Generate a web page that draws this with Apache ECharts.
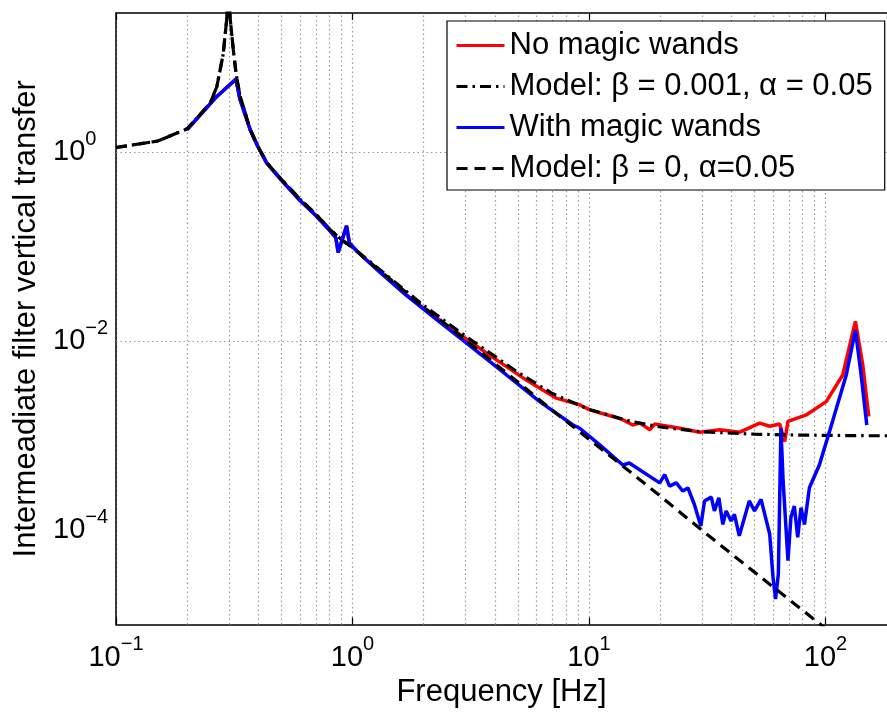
<!DOCTYPE html>
<html>
<head>
<meta charset="utf-8">
<script src="https://cdn.jsdelivr.net/npm/echarts@6/dist/echarts.min.js"></script>
<style>
html,body{margin:0;padding:0;background:#fff;}
#chart{width:887px;height:713px;}
</style>
</head>
<body>
<div id="chart"></div>
<script>
// ---- data ----
const freqModel = [0.1, 0.15, 0.2, 0.25, 0.267, 0.284, 0.2935, 0.3, 0.3036, 0.3134, 0.3215, 0.334, 0.345, 0.369, 0.397, 0.434, 0.5, 0.6, 0.7, 0.8, 0.9, 1.0, 1.5, 2, 3, 5, 7, 10, 15, 20, 30, 50, 70, 100, 150, 200];
const modelBeta0 = [1.13, 1.32, 1.78, 3.3, 5.0, 11, 25, 60, 27, 12.2, 7.0, 4.0, 3.1, 1.75, 1.17, 0.78, 0.52, 0.32, 0.222, 0.154, 0.118, 0.098, 0.042, 0.023, 0.0104, 0.0037, 0.00186, 0.00092, 0.00041, 0.00023, 0.0001, 0.000036, 0.0000185, 0.0000091, 0.000004, 0.0000023];
const modelBeta001 = [1.13, 1.32, 1.78, 3.3, 5.0, 11, 25, 60, 27, 12.2, 7.0, 4.0, 3.1, 1.75, 1.17, 0.78, 0.52, 0.32, 0.222, 0.155, 0.119, 0.099, 0.043, 0.024, 0.0114, 0.0047, 0.0028, 0.0019, 0.00142, 0.00124, 0.0011, 0.00104, 0.00102, 0.00101, 0.001, 0.001];

const freqRed = [0.2, 0.267, 0.3216, 0.334, 0.369, 0.397, 0.434, 0.5, 0.6, 0.7, 0.8, 0.85, 0.87, 0.944, 0.97, 1.04, 1.18, 1.305, 1.69, 2.0, 2.5, 3.81, 5.26, 7.28, 9.14, 10.07, 12.6, 13.9, 15.3, 16.4, 18.1, 18.95, 24.2, 29.4, 35.7, 43.4, 52.7, 58.1, 64, 67.2, 69.4, 82.9, 100.7, 118.3, 133.8, 143.8, 152.4];
const valRed = [1.75, 3.92, 5.98, 3.7, 1.75, 1.17, 0.77, 0.51, 0.31, 0.215, 0.15, 0.125, 0.0875, 0.167, 0.11, 0.091, 0.068, 0.055, 0.031, 0.0225, 0.0148, 0.0071, 0.0041, 0.0025, 0.00212, 0.00188, 0.0016, 0.00148, 0.0013, 0.00136, 0.00116, 0.00133, 0.0012, 0.00109, 0.00116, 0.00109, 0.00136, 0.00126, 0.00133, 0.00087, 0.00142, 0.00166, 0.0023, 0.0044, 0.0163, 0.0056, 0.0016];

const freqBlue = [0.2, 0.267, 0.3216, 0.334, 0.369, 0.397, 0.434, 0.5, 0.6, 0.7, 0.8, 0.85, 0.87, 0.944, 0.97, 1.04, 1.18, 1.305, 1.69, 2.34, 3.24, 4.48, 6.19, 8.56, 9.14, 11.1, 13.9, 14.8, 19.9, 20.9, 21.9, 23.4, 24.9, 26.2, 27.9, 29.7, 30.8, 32.9, 33.9, 35.4, 36.8, 38, 39.9, 41.2, 43.2, 47.6, 50.1, 53.4, 58.1, 60, 61.5, 63.2, 64.8, 66.2, 69.4, 71.4, 73.8, 76.3, 78.8, 81.5, 85.5, 94.2, 107.1, 122.4, 133.8, 141.5, 149.5];
const valBlue = [1.75, 3.92, 5.98, 3.7, 1.75, 1.17, 0.77, 0.51, 0.31, 0.215, 0.15, 0.125, 0.0875, 0.167, 0.11, 0.091, 0.068, 0.054, 0.0306, 0.016, 0.0084, 0.0044, 0.0023, 0.0013, 0.0012, 0.0008, 0.00049, 0.000515, 0.000317, 0.000388, 0.000293, 0.000317, 0.00026, 0.00028, 0.000187, 0.000111, 0.000204, 0.000224, 0.00016, 0.00022, 0.000115, 0.00016, 0.000125, 0.000147, 0.000087, 0.000204, 0.00016, 0.000212, 0.0000905, 0.0000316, 0.0000187, 0.0000343, 0.0012, 0.00033, 0.0000475, 0.000136, 0.00018, 0.000084, 0.000173, 0.000115, 0.000281, 0.00049, 0.00142, 0.0044, 0.0131, 0.0044, 0.0013];

const seriesNames = ['No magic wands', 'Model: β = 0.001, α = 0.05', 'With magic wands', 'Model: β = 0, α=0.05'];
const xMinorGrid = [0.2, 0.3, 0.4, 0.5, 0.6, 0.7, 0.8, 0.9, 2, 3, 4, 5, 6, 7, 8, 9, 20, 30, 40, 50, 60, 70, 80, 90];
const yMajorGrid = [1, 0.01, 0.0001];
const xRange = [0.1, 182];
const yRange = [1e-5, 30];

// ---- chart ----
const FONT = 'Liberation Sans';
const gridStyle = { color: '#9a9a9a', width: 1.2, type: [1.5, 3] };
const zip = (xs, ys) => xs.map((x, i) => [x, ys[i]]);
const rich = {
  b: { fontSize: 29, fontFamily: FONT, color: '#000' },
  s: { fontSize: 20, fontFamily: FONT, color: '#000', padding: [0, 0, 26, 0] }
};
function powLabel(v, evenOnly) {
  const e = Math.log10(v);
  const n = Math.round(e);
  if (Math.abs(e - n) > 1e-6) return '';
  if (evenOnly && n % 2 !== 0) return '';
  return '{b|10}{s|' + (n < 0 ? '\u2212' + (-n) : n) + '}';
}

const chart = echarts.init(document.getElementById('chart'), null, { renderer: 'canvas' });
const option = {
  animation: false,
  backgroundColor: '#fff',
  grid: { left: 116, right: 0, top: 13, bottom: 85, containLabel: false },
  legend: {
    orient: 'vertical', left: 447, top: 21,
    itemWidth: 48, itemHeight: 30, itemGap: 10,
    padding: [9, 12, 6, 8],
    backgroundColor: '#fff', borderColor: '#000', borderWidth: 1.2,
    textStyle: { fontSize: 31, fontFamily: FONT, color: '#000', lineHeight: 30 },
    lineStyle: { width: 3 },
    itemStyle: { color: 'rgba(0,0,0,0)', borderWidth: 0, opacity: 0 },
    data: seriesNames
  },
  xAxis: [{
    type: 'log', logBase: 10, min: xRange[0], max: xRange[1], position: 'bottom',
    name: 'Frequency [Hz]', nameLocation: 'middle', nameGap: 50,
    nameTextStyle: { fontSize: 31, fontFamily: FONT, color: '#000' },
    axisLine: { lineStyle: { color: '#000', width: 1.5 } },
    axisTick: { inside: true, length: 7, lineStyle: { color: '#000', width: 1.2 } },
    axisLabel: { margin: 10, showMaxLabel: false, formatter: v => powLabel(v, false), rich: rich },
    splitLine: { show: true, showMaxLine: false, lineStyle: gridStyle }
  }, {
    type: 'log', logBase: 10, min: xRange[0], max: xRange[1], position: 'top',
    axisLine: { lineStyle: { color: '#000', width: 1.5 } },
    axisTick: { inside: true, length: 7, lineStyle: { color: '#000', width: 1.2 } },
    axisLabel: { show: false },
    splitLine: { show: false }
  }],
  yAxis: {
    type: 'log', logBase: 10, min: yRange[0], max: yRange[1],
    name: 'Intermeadiate filter vertical transfer', nameLocation: 'middle', nameGap: 72,
    nameTextStyle: { fontSize: 31, fontFamily: FONT, color: '#000' },
    axisLine: { show: true, lineStyle: { color: '#000', width: 1.5 } },
    axisTick: { show: false },
    axisLabel: { margin: 63, align: 'left', formatter: v => powLabel(v, true), rich: rich },
    splitLine: { show: false }
  },
  series: [{
    name: seriesNames[0], type: 'line', data: zip(freqRed, valRed), symbol: 'none',
    lineStyle: { color: '#ff0000', width: 3.5 }, itemStyle: { color: '#ff0000' },
    markLine: {
      silent: true, symbol: ['none', 'none'], z: 1, animation: false,
      label: { show: false }, lineStyle: gridStyle, emphasis: { disabled: true },
      data: xMinorGrid.map(v => ({ xAxis: v })).concat(yMajorGrid.map(v => ({ yAxis: v })))
    }
  }, {
    name: seriesNames[1], type: 'line', data: zip(freqModel, modelBeta001), symbol: 'none',
    lineStyle: { color: '#000', width: 3.2, type: [11, 5, 2.5, 5] }, itemStyle: { color: '#000' }
  }, {
    name: seriesNames[2], type: 'line', data: zip(freqBlue, valBlue), symbol: 'none',
    lineStyle: { color: '#0000ff', width: 3.5 }, itemStyle: { color: '#0000ff' }
  }, {
    name: seriesNames[3], type: 'line', data: zip(freqModel, modelBeta0), symbol: 'none',
    lineStyle: { color: '#000', width: 3.2, type: [11, 7] }, itemStyle: { color: '#000' }
  }]
};
chart.setOption(option);
</script>
</body>
</html>
